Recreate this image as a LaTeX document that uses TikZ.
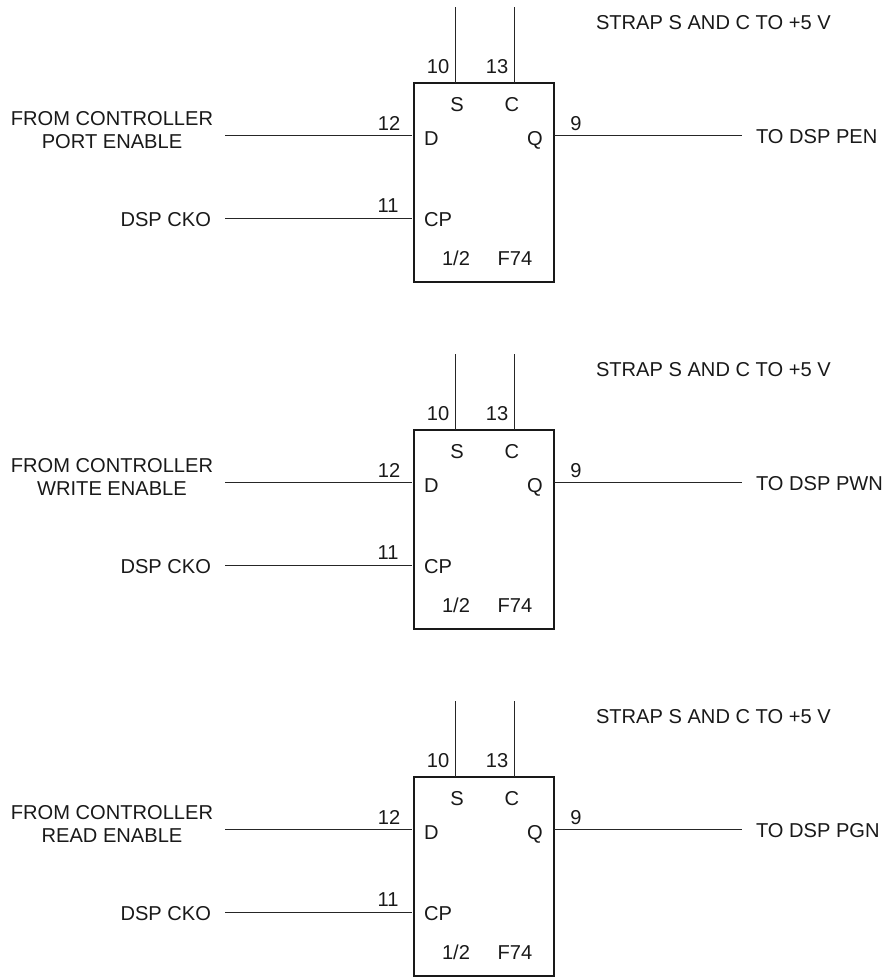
\documentclass[tikz,border=0pt]{standalone}
\usepackage{fontspec}
\setmainfont{Liberation Sans}
\tikzset{
  x=1pt,y=-1pt,
  txt/.style={inner sep=0pt,outer sep=0pt,font=\fontsize{20.1}{24}\selectfont,text=black!90},
  ffbox/.style={draw=black!90,line width=2pt,minimum width=140pt,minimum height=199pt,inner sep=0pt,outer sep=0pt},
  wire/.style={draw=black!85,line width=1pt}
}
\begin{document}
\begin{tikzpicture}
\useasboundingbox (0,0) rectangle (881,977);
\foreach \n/\o/\sig/\out in {a/0/PORT ENABLE/TO DSP PEN,b/347/WRITE ENABLE/TO DSP PWN,c/694/READ ENABLE/TO DSP PGN}{
  \begin{scope}[yshift=-\o pt]
    \node[ffbox] (box\n) at (484,182.5) {};
    \coordinate (dl\n) at (225,135.5);
    \coordinate (dr\n) at (412,135.5);
    \coordinate (cl\n) at (225,218);
    \coordinate (cr\n) at (412,218);
    \coordinate (st\n) at (455.7,7);
    \coordinate (ct\n) at (514,7);
    \coordinate (qe\n) at (742,135.5);
    \draw[wire] (dl\n) -- (dr\n);
    \draw[wire] (cl\n) -- (cr\n);
    \draw[wire] (st\n) -- (st\n |- box\n.north);
    \draw[wire] (ct\n) -- (ct\n |- box\n.north);
    \draw[wire] (box\n.east |- qe\n) -- (qe\n);
    \node[txt,anchor=base] (from\n) at (112,125) {FROM CONTROLLER};
    \node[txt,anchor=base] (en\n) at (112,148) {\sig};
    \node[txt,anchor=base east] (ck\n) at (211,226) {DSP CKO};
    \node[txt,anchor=base] (pd\n) at (389,130) {12};
    \node[txt,anchor=base] (pc\n) at (388,212) {11};
    \node[txt,anchor=base] (ps\n) at (438,73) {10};
    \node[txt,anchor=base] (pr\n) at (497,73) {13};
    \node[txt,anchor=base] (ls\n) at (457,111) {S};
    \node[txt,anchor=base] (lc\n) at (512,111) {C};
    \node[txt,anchor=base west] (ld\n) at (424,145) {D};
    \node[txt,anchor=base] (lq\n) at (535,145) {Q};
    \node[txt,anchor=base west] (lp\n) at (424,226) {CP};
    \node[txt,anchor=base] (lh\n) at (456,265) {1/2};
    \node[txt,anchor=base] (lf\n) at (515,265) {F74};
    \node[txt,anchor=base] (pq\n) at (576,130) {9};
    \node[txt,anchor=base west] (to\n) at (756,143) {\out};
    \node[txt,anchor=base west] (sr\n) at (596,29) {STRAP S AND C TO +5 V};
  \end{scope}
}
\end{tikzpicture}
\end{document}
